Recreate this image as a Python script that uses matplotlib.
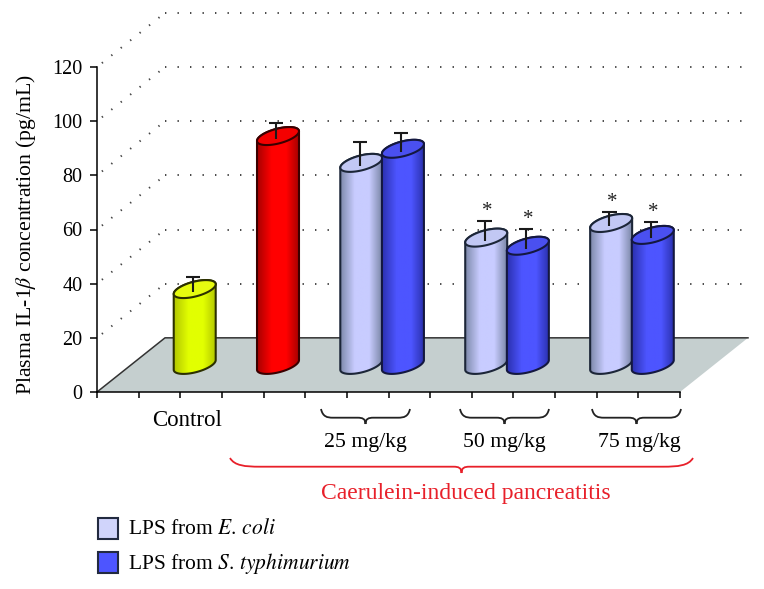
import numpy as np
import matplotlib
matplotlib.use("Agg")
import matplotlib.pyplot as plt
from matplotlib.colors import to_rgb
from matplotlib.patches import PathPatch, Polygon, Rectangle
from matplotlib.path import Path

plt.rcParams['font.family'] = ['Liberation Serif', 'DejaVu Serif']
plt.rcParams['mathtext.fontset'] = 'stix'

# data
values = [28, 84.5, 74.6, 79.8, 47, 44, 52.4, 48]
errors = [4.5, 5, 7.7, 6, 6.2, 6.2, 4.1, 4.8]
starred = [False, False, False, False, True, True, True, True]
kinds = ['control', 'model', 'ecoli', 'typhi', 'ecoli', 'typhi', 'ecoli', 'typhi']
y_ticks = [0, 20, 40, 60, 80, 100, 120]
dose_labels = ['25 mg/kg', '50 mg/kg', '75 mg/kg']

# layout
bar_x = [1.53, 3.53, 5.53, 6.53, 8.53, 9.53, 11.53, 12.53]
W, H = 764, 589
X0, X1, Y0, Y120 = 97, 680, 392, 67
depth_x = 68 / 41.64   # full floor depth, in x units
depth_y = 20           # full floor depth, in y units

# side colour, centre colour, top colour, outline
styles = {
    'control': ('#b4c800', '#e2ff00', '#e6fb10', '#2c3000'),
    'model': ('#a80000', '#ff0000', '#f40000', '#3a0000'),
    'ecoli': ('#7d89aa', '#c8ccff', '#c2c8f4', '#1c2638'),
    'typhi': ('#2b31b0', '#4d55ff', '#4a50f0', '#141840'),
}
legend_fill = {'ecoli': '#d0d4fb', 'typhi': '#4d55ff'}

fig = plt.figure(figsize=(W / 100, H / 100), dpi=100)
ax = fig.add_axes([X0 / W, 1 - Y0 / H, (X1 - X0) / W, (Y0 - Y120) / H])
ax.patch.set_visible(False)


def fx(px):
    return px / W


def fy(py):
    return 1 - py / H


def ellipse(cx, cy, t):
    return cx + 0.425 * np.cos(t) + 0.271 * np.sin(t), cy + 3.32 * np.sin(t)


def draw_bar(cx, value, err, kind, z):
    side, mid, top, edge = styles[kind]
    cx = cx + depth_x / 2
    base = depth_y / 2
    tip = value + base
    t_left = np.pi + np.arctan2(0.271, 0.425)
    t_right = np.arctan2(0.271, 0.425)
    # body outline: down the left side, round the bottom, up the right side, back over the top
    t_low = np.linspace(t_left, t_right + 2 * np.pi, 50)
    t_high = np.linspace(t_right, t_left, 50)
    lx, ly = ellipse(cx, base, t_low)
    hx, hy = ellipse(cx, tip, t_high)
    body = Polygon(np.column_stack([np.r_[lx, hx], np.r_[ly, hy]]), closed=True,
                   facecolor='none', edgecolor=edge, lw=1.5, zorder=z + 0.2, joinstyle='round')
    ax.add_patch(body)
    c0, c1 = np.array(to_rgb(side)), np.array(to_rgb(mid))
    s = np.linspace(0, 1, 64)
    w = np.clip(np.minimum(s / 0.35, (1 - s) / 0.3), 0, 1)[None, :, None]
    im = ax.imshow(c0 * (1 - w) + c1 * w, aspect='auto', zorder=z,
                   extent=(lx.min(), lx.max(), base - 5, tip + 5), interpolation='bilinear')
    im.set_clip_path(body)
    tt = np.linspace(0, 2 * np.pi, 100)
    ex, ey = ellipse(cx, tip, tt)
    ax.fill(ex, ey, facecolor=top, edgecolor=edge, lw=1.5, zorder=z + 0.3)
    # error bar runs from just below the middle of the top face
    ex_x = cx - 0.04
    ax.vlines(ex_x, tip - 1.2, tip + err, color='#1a1a1a', lw=1.5, zorder=z + 0.4)
    ax.hlines(tip + err, ex_x - 0.17, ex_x + 0.17, color='#1a1a1a', lw=1.5, zorder=z + 0.4)


def brace(x0, x1, y0, y1, color, curl=12, lw=1.3):
    mid = (x0 + x1) / 2
    ym = y0 + (y1 - y0) * 0.58
    verts = [(x0, y0),
             (x0 + curl * 0.15, ym - 1), (x0 + curl * 0.5, ym), (x0 + curl, ym),
             (x0 + curl * 1.5, ym), (mid - 12, ym), (mid - 8, ym),
             (mid - 3, ym), (mid, ym + 1), (mid, y1),
             (mid, ym + 1), (mid + 3, ym), (mid + 8, ym),
             (mid + 12, ym), (x1 - curl * 1.5, ym), (x1 - curl, ym),
             (x1 - curl * 0.5, ym), (x1 - curl * 0.15, ym - 1), (x1, y0)]
    codes = [Path.MOVETO] + [Path.CURVE4] * 18
    pts = [(fx(a), fy(b)) for a, b in verts]
    fig.add_artist(PathPatch(Path(pts, codes), transform=fig.transFigure,
                             facecolor='none', edgecolor=color, lw=lw))


# floor
ax.add_patch(Polygon([(0, 0), (14, 0), (14 + depth_x, depth_y), (depth_x, depth_y)], closed=True,
                     facecolor='#c5cfcf', edgecolor='none', zorder=1, clip_on=False))
ax.plot([0, depth_x, 14 + depth_x], [0, depth_y, depth_y], color='#333333', lw=1.1, zorder=1.5,
        clip_on=False)

# dotted gridlines, front wall edge then back wall
dot_style = dict(color='#444444', lw=1.4, linestyle=(0, (0.7, 5.73)), zorder=0.5, clip_on=False,
                 dash_capstyle='butt')
for v in y_ticks[1:]:
    ax.plot([0, depth_x], [v, v + depth_y], color='#444444', lw=1.4, linestyle=(3, (0.7, 5.5)),
            zorder=0.5, clip_on=False, dash_capstyle='butt')
    ax.plot([depth_x, 14 + depth_x], [v + depth_y, v + depth_y], **dot_style)

for i, (x, v, e, k) in enumerate(zip(bar_x, values, errors, kinds)):
    draw_bar(x, v, e, k, 3 + i)
    if starred[i]:
        ax.text(x + depth_x / 2 + 0.02, v + depth_y / 2 + e + 3.5, '*', fontsize=15, ha='center',
                va='center', color='#222222', clip_on=False, zorder=20)

ax.set_xlim(0, 14)
ax.set_ylim(0, 120)
for sp in ['top', 'right']:
    ax.spines[sp].set_visible(False)
for sp in ['left', 'bottom']:
    ax.spines[sp].set_linewidth(1.1)
    ax.spines[sp].set_zorder(2)
ax.set_xticks(range(15))
ax.set_xticklabels([])
ax.set_yticks(y_ticks)
ax.tick_params(axis='y', direction='out', length=5, width=1.1, labelsize=14.5, pad=5.5)
ax.tick_params(axis='x', direction='out', length=4.5, width=1.1)

fig.text(fx(26), fy(235), r'Plasma IL-1$\beta$ concentration (pg/mL)', rotation=90, fontsize=15.7,
         ha='center', va='center')
fig.text(fx(187), fy(420.5), 'Control', fontsize=16.5, ha='center', va='center')

for (b0, b1), lab, tx in zip([(321, 410), (460, 549), (592, 681)], dose_labels, [365, 504, 639]):
    brace(b0, b1, 409, 424, '#222222')
    fig.text(fx(tx), fy(443), lab, fontsize=15.7, ha='center', va='center')

brace(230, 693, 458, 473, '#e8202a', curl=30)
fig.text(fx(466), fy(493), 'Caerulein-induced pancreatitis', fontsize=17, color='#e8202a',
         ha='center', va='center')

# legend
for py, base, kind, lab in [(518, 534, 'ecoli', r'LPS from $\mathit{E.\,coli}$'),
                            (552, 569, 'typhi', r'LPS from $\mathit{S.\,typhimurium}$')]:
    fig.add_artist(Rectangle((fx(97.5), fy(py + 21)), 21 / W, 21 / H, transform=fig.transFigure,
                             facecolor=legend_fill[kind], edgecolor='#222a40', lw=1.5))
    fig.text(fx(128), fy(base), lab, fontsize=15.5, ha='left', va='baseline')

fig.savefig('out.png', dpi=100)
